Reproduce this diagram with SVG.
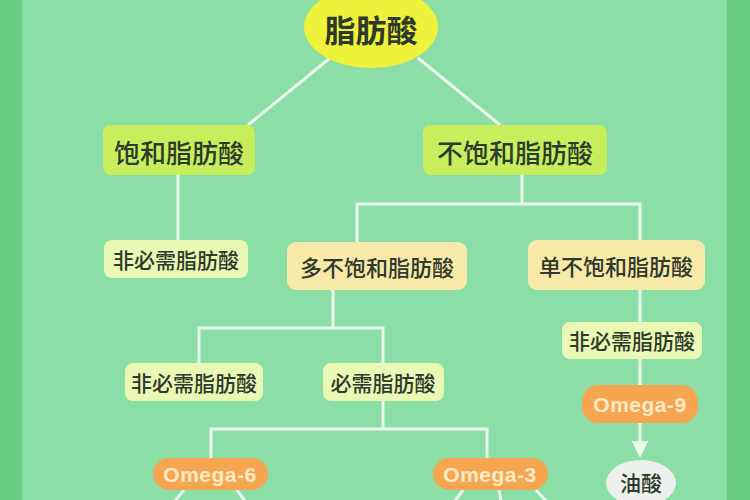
<svg xmlns="http://www.w3.org/2000/svg" width="750" height="500" viewBox="0 0 750 500">
<defs>
<style>
.bg{fill:#67cd80}
.panel{fill:#8bdfa6}
.ln{stroke:#eaf8ee;stroke-width:3;fill:none}
.t{font-family:"Noto Sans CJK SC","Noto Sans",sans-serif;fill:#2f3a2c;text-anchor:middle;dominant-baseline:central}
.big{font-size:31px;font-weight:700}
.mid{font-size:26px;font-weight:500}
.sm{font-size:21px;font-weight:500}
.om{font-family:"Liberation Sans","Noto Sans",sans-serif;font-size:21px;font-weight:700;fill:#fcebc6;text-anchor:middle;dominant-baseline:central;letter-spacing:0.5px}
.yg{fill:#c8ee5e}
.pale{fill:#e9f8b4}
.cream{fill:#f7eaa9}
.orange{fill:#f6a651}
</style>
<marker id="arr" viewBox="0 0 10 10" refX="9" refY="5" markerWidth="5.5" markerHeight="6" orient="auto" markerUnits="strokeWidth">
<path d="M0,0 L10,5 L0,10 z" fill="#eaf8ee"/>
</marker>
</defs>
<rect class="bg" x="0" y="0" width="750" height="500"/>
<rect class="panel" x="22" y="0" width="705" height="500"/>

<g id="connectors">
<line class="ln" x1="330" y1="58" x2="248" y2="125"/>
<line class="ln" x1="418" y1="58" x2="500" y2="125"/>
<line class="ln" x1="178" y1="175" x2="178" y2="240"/>
<polyline class="ln" points="522,175 522,204"/>
<polyline class="ln" points="357,242 357,204 640,204 640,240"/>
<polyline class="ln" points="333,290 333,328"/>
<polyline class="ln" points="199,363 199,328 383,328 383,363"/>
<polyline class="ln" points="383,401 383,429"/>
<polyline class="ln" points="211,458 211,429 487,429 487,458"/>
<line class="ln" x1="640" y1="290" x2="640" y2="322"/>
<line class="ln" x1="640" y1="359" x2="640" y2="385"/>
<line class="ln" x1="640" y1="423" x2="640" y2="456" marker-end="url(#arr)"/>
<line class="ln" x1="184" y1="490" x2="175" y2="501"/>
<line class="ln" x1="237" y1="490" x2="245" y2="501"/>
<line class="ln" x1="463" y1="490" x2="455" y2="501"/>
<line class="ln" x1="499" y1="490" x2="501" y2="501"/>
<line class="ln" x1="536" y1="490" x2="546" y2="501"/>
</g>

<g id="n-fatty-acid">
<ellipse cx="371" cy="27" rx="67" ry="41" fill="#eef23b"/>
<text class="t big" x="371" y="28">脂肪酸</text>
</g>
<g id="n-saturated">
<rect class="yg" x="103" y="125" width="152" height="50" rx="8"/>
<text class="t mid" x="179" y="151">饱和脂肪酸</text>
</g>
<g id="n-unsaturated">
<rect class="yg" x="423" y="125" width="184" height="50" rx="8"/>
<text class="t mid" x="515" y="151">不饱和脂肪酸</text>
</g>
<g id="n-nonessential-1">
<rect class="pale" x="104" y="240" width="144" height="38" rx="8"/>
<text class="t sm" x="176" y="259">非必需脂肪酸</text>
</g>
<g id="n-poly">
<rect class="cream" x="287" y="242" width="180" height="48" rx="9"/>
<text class="t sm" x="377" y="266" style="font-size:22px">多不饱和脂肪酸</text>
</g>
<g id="n-mono">
<rect class="cream" x="528" y="240" width="177" height="50" rx="9"/>
<text class="t sm" x="616" y="265" style="font-size:22px">单不饱和脂肪酸</text>
</g>
<g id="n-nonessential-2">
<rect class="pale" x="125" y="363" width="138" height="38" rx="8"/>
<text class="t sm" x="194" y="382">非必需脂肪酸</text>
</g>
<g id="n-essential">
<rect class="pale" x="323" y="363" width="121" height="38" rx="8"/>
<text class="t sm" x="383" y="382">必需脂肪酸</text>
</g>
<g id="n-nonessential-3">
<rect class="pale" x="562" y="322" width="140" height="37" rx="8"/>
<text class="t sm" x="632" y="340">非必需脂肪酸</text>
</g>
<g id="n-omega9">
<rect class="orange" x="582" y="385" width="116" height="38" rx="16"/>
<text class="om" x="640" y="404">Omega-9</text>
</g>
<g id="n-oleic">
<ellipse cx="641" cy="483" rx="35" ry="23" fill="#eef0ee"/>
<text class="t sm" x="641" y="482">油酸</text>
</g>
<g id="n-omega6">
<rect class="orange" x="153" y="458" width="115" height="32" rx="16"/>
<text class="om" x="210" y="474">Omega-6</text>
</g>
<g id="n-omega3">
<rect class="orange" x="433" y="458" width="115" height="32" rx="16"/>
<text class="om" x="490" y="474">Omega-3</text>
</g>
</svg>
